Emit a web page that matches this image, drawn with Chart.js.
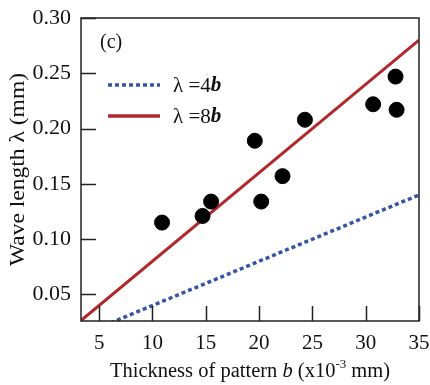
<!DOCTYPE html>
<html>
<head>
<meta charset="utf-8">
<script src="https://cdn.jsdelivr.net/npm/chart.js@4"></script>
<style>
html, body { margin: 0; padding: 0; background: #fff; }
</style>
</head>
<body>
<canvas id="waveChart" width="430" height="385"></canvas>
<script>
// measured points: thickness b (x10^-3 mm) vs wave length (mm)
const thickness = [10.9, 14.7, 15.5, 19.6, 20.2, 22.2, 24.3, 30.7, 32.8, 32.9];
const wavelength = [0.115, 0.121, 0.134, 0.189, 0.134, 0.157, 0.208, 0.222, 0.247, 0.217];

// reference lines (end points)
const lineB = [0, 35];
const line4b = [0, 0.14];
const line8b = [0, 0.28];

const xTicks = [5, 10, 15, 20, 25, 30, 35];
const yTicks = [0.05, 0.10, 0.15, 0.20, 0.25, 0.30];

const SERIF = "'Liberation Serif', 'DejaVu Serif', serif";
const BLUE = '#3455a4';
const RED = '#b0282b';

function toPoints(xs, ys) {
    return xs.map(function(x, i) { return { x: x, y: ys[i] }; });
}

// frame, inward tick marks, titles, legend and panel label
const decorations = {
    id: 'decorations',
    afterDraw: function(chart) {
        const ctx = chart.ctx;
        const area = chart.chartArea;
        const xs = chart.scales.x;
        const ys = chart.scales.y;
        ctx.save();
        ctx.strokeStyle = '#222';
        ctx.lineWidth = 1.5;
        ctx.strokeRect(area.left, area.top, area.right - area.left, area.bottom - area.top);

        ctx.beginPath();
        xTicks.forEach(function(v) {
            const px = Math.round(xs.getPixelForValue(v)) + 0.5;
            ctx.moveTo(px, area.bottom);
            ctx.lineTo(px, area.bottom - 15);
        });
        yTicks.forEach(function(v) {
            const py = Math.round(ys.getPixelForValue(v)) + 0.5;
            ctx.moveTo(area.left, py);
            ctx.lineTo(area.left + 15, py);
        });
        ctx.stroke();

        ctx.fillStyle = '#111';
        ctx.textBaseline = 'middle';

        // panel label
        ctx.font = '20px ' + SERIF;
        ctx.textAlign = 'left';
        ctx.fillText('(c)', area.left + 19, area.top + 25);

        // y axis title
        ctx.save();
        ctx.translate(18, (area.top + area.bottom) / 2);
        ctx.rotate(-Math.PI / 2);
        ctx.scale(1.12, 1);
        ctx.textAlign = 'center';
        ctx.font = '21px ' + SERIF;
        ctx.fillText('Wave length \u03bb (mm)', 0, 0);
        ctx.restore();

        // x axis title with italic b and superscript
        const parts = [
            { t: 'Thickness of pattern ', f: '20.5px ' + SERIF, dy: 0 },
            { t: 'b', f: 'italic 20.5px ' + SERIF, dy: 0 },
            { t: ' (x10', f: '20.5px ' + SERIF, dy: 0 },
            { t: '-3', f: '13px ' + SERIF, dy: -7 },
            { t: ' mm)', f: '20.5px ' + SERIF, dy: 0 }
        ];
        let total = 0;
        parts.forEach(function(p) { ctx.font = p.f; p.w = ctx.measureText(p.t).width; total += p.w; });
        let x = (area.left + area.right) / 2 - total / 2;
        ctx.textAlign = 'left';
        parts.forEach(function(p) {
            ctx.font = p.f;
            ctx.fillText(p.t, x, 372 + p.dy);
            x += p.w;
        });

        // legend
        const legendRows = [
            { color: BLUE, dash: [4, 3], width: 3.5, label: '\u03bb =4', y: 85 },
            { color: RED, dash: [], width: 3.5, label: '\u03bb =8', y: 116 }
        ];
        legendRows.forEach(function(r) {
            ctx.beginPath();
            ctx.strokeStyle = r.color;
            ctx.lineWidth = r.width;
            ctx.setLineDash(r.dash);
            ctx.moveTo(108, r.y);
            ctx.lineTo(160, r.y);
            ctx.stroke();
            ctx.setLineDash([]);
            ctx.font = '21px ' + SERIF;
            ctx.fillStyle = '#111';
            ctx.fillText(r.label, 173, r.y + 1);
            const w = ctx.measureText(r.label).width;
            ctx.font = 'italic bold 21px ' + SERIF;
            ctx.fillText('b', 173 + w, r.y + 1);
        });
        ctx.restore();
    }
};

const ctx = document.getElementById('waveChart').getContext('2d');
const chart = new Chart(ctx, {
    type: 'scatter',
    data: {
        datasets: [{
            label: 'measured',
            data: toPoints(thickness, wavelength),
            backgroundColor: '#000',
            borderColor: '#000',
            pointRadius: 7.5,
            pointHoverRadius: 7.5
        }, {
            label: '\u03bb =8b',
            data: toPoints(lineB, line8b),
            showLine: true,
            borderColor: RED,
            borderWidth: 3,
            pointRadius: 0
        }, {
            label: '\u03bb =4b',
            data: toPoints(lineB, line4b),
            showLine: true,
            borderColor: BLUE,
            borderWidth: 3.5,
            borderDash: [4, 3],
            pointRadius: 0
        }]
    },
    options: {
        responsive: false,
        animation: false,
        layout: { padding: { top: 18, right: 11, left: 0, bottom: 0 } },
        plugins: {
            legend: { display: false },
            tooltip: { enabled: false }
        },
        scales: {
            x: {
                type: 'linear',
                min: 3.3,
                max: 35,
                grid: { display: false, drawTicks: false },
                border: { display: false },
                afterBuildTicks: function(scale) {
                    scale.ticks = xTicks.map(function(v) { return { value: v }; });
                },
                afterFit: function(scale) {
                    scale.height = 64;
                    scale.paddingLeft = 0;
                    scale.paddingRight = 0;
                },
                ticks: {
                    color: '#111',
                    padding: 10,
                    maxRotation: 0,
                    font: { family: SERIF, size: 21 },
                    callback: function(v) { return String(v); }
                }
            },
            y: {
                type: 'linear',
                min: 0.026,
                max: 0.30,
                grid: { display: false, drawTicks: false },
                border: { display: false },
                afterBuildTicks: function(scale) {
                    scale.ticks = yTicks.map(function(v) { return { value: v }; });
                },
                afterFit: function(scale) {
                    scale.width = 81;
                    scale.paddingTop = 0;
                    scale.paddingBottom = 0;
                },
                ticks: {
                    color: '#111',
                    padding: 10,
                    font: { family: SERIF, size: 22 },
                    callback: function(v) { return Number(v).toFixed(2); }
                }
            }
        }
    },
    plugins: [decorations]
});
</script>
</body>
</html>
